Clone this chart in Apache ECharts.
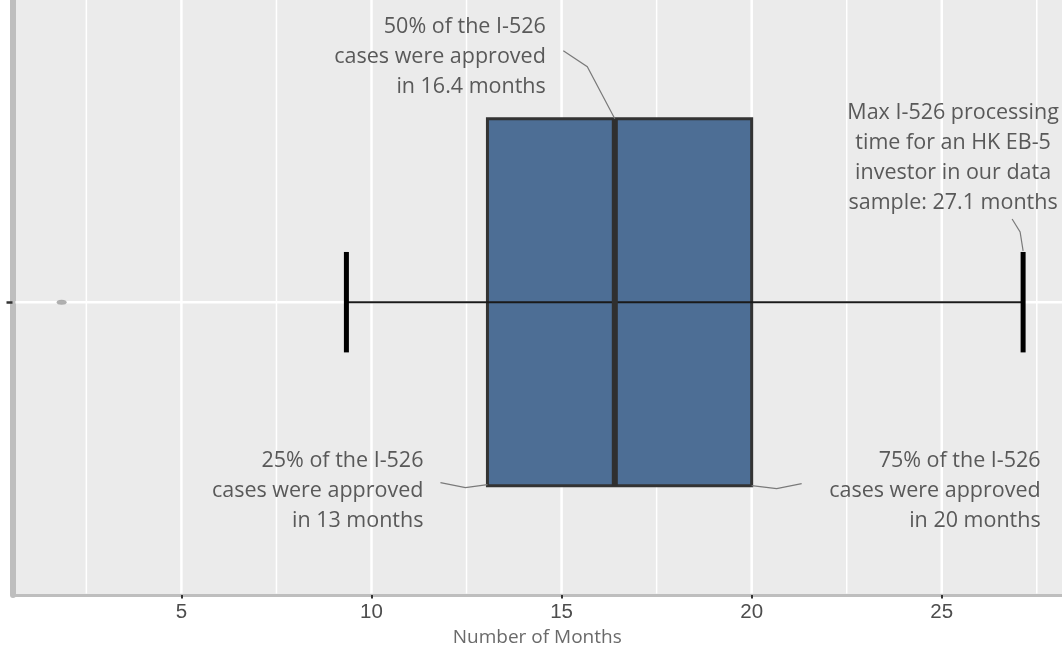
<!DOCTYPE html>
<html><head><meta charset="utf-8">
<script src="https://cdn.jsdelivr.net/npm/echarts@6/dist/echarts.min.js"></script>
<style>html,body{margin:0;padding:0;background:#fff}#c{width:1062px;height:652px}</style>
</head><body><div id="c"></div>
<script>
// ---- data ----
const categories = ['HK EB-5 investors'];
const q1Values = [13.05];
const medianValues = [16.4];
const q3Values = [20.0];
const whiskerLowValues = [9.34];
const whiskerHighValues = [27.14];
const outlierValues = [1.85];
const xTickValues = [5, 10, 15, 20, 25];
const xMinorGridValues = [2.5, 7.5, 12.5, 17.5, 22.5, 27.5];
const xAxisTitle = 'Number of Months';
const medianNote = ['50% of the I-526', 'cases were approved', 'in 16.4 months'];
const q1Note = ['25% of the I-526', 'cases were approved', 'in 13 months'];
const q3Note = ['75% of the I-526', 'cases were approved', 'in 20 months'];
const maxNote = ['Max I-526 processing', 'time for an HK EB-5', 'investor in our data', 'sample: 27.1 months'];

// ---- style constants ----
const BOX_HALF = 0.6265;   // in y-axis units (category centred at 1)
const CAP_HALF = 0.1715;
const NOTE_FONT = '"Open Sans", "Noto Sans", sans-serif';
const NOTE_SIZE = 21.5;
const NOTE_COLOR = '#595959';

const chart = echarts.init(document.getElementById('c'), null, {renderer: 'canvas'});

const boxData = categories.map((c, i) => [i + 1, q1Values[i], medianValues[i], q3Values[i], whiskerLowValues[i], whiskerHighValues[i]]);
const gridData = xMinorGridValues.map(v => [v, 1, 1.5]).concat(xTickValues.map(v => [v, 1, 2.5]));

chart.setOption({
  animation: false,
  grid: {left: 12.5, right: 0, top: 0, bottom: 51.5, show: true, backgroundColor: '#EBEBEB', borderWidth: 0},
  xAxis: {
    type: 'value', min: 0.557, max: 28.163,
    axisLine: {show: true, onZero: false, lineStyle: {color: '#BEBEBE', width: 3}},
    axisTick: {show: true, customValues: xTickValues, length: 3.5, lineStyle: {color: '#333', width: 2}},
    axisLabel: {customValues: xTickValues, color: '#4D4D4D', fontFamily: '"Liberation Sans", Arial, sans-serif', fontSize: 20.5, margin: 7},
    splitLine: {show: false},
    name: xAxisTitle, nameLocation: 'middle', nameGap: 33,
    nameTextStyle: {color: '#6A6A6A', fontFamily: NOTE_FONT, fontSize: 19}
  },
  yAxis: {
    type: 'value', min: 0, max: 2.032,
    axisLine: {show: true, onZero: false, lineStyle: {color: '#BEBEBE', width: 6}},
    axisTick: {show: true, customValues: [1], length: 6, lineStyle: {color: '#333', width: 2.5}},
    axisLabel: {show: false, customValues: [1]},
    splitLine: {show: false}
  },
  series: [
    {
      type: 'custom', z: 1, silent: true,
      data: gridData,
      renderItem: function (params, api) {
        const cs = params.coordSys;
        const x = api.coord([api.value(0), api.value(1)])[0];
        return {type: 'line', shape: {x1: x, y1: cs.y, x2: x, y2: cs.y + cs.height - 1.5},
          style: {stroke: '#FFFFFF', lineWidth: api.value(2)}};
      }
    },
    {
      type: 'custom', z: 1, silent: true,
      data: categories.map((c, i) => [i + 1]),
      renderItem: function (params, api) {
        const cs = params.coordSys;
        const y = api.coord([1, api.value(0)])[1];
        return {type: 'line', shape: {x1: cs.x + 3, y1: y, x2: cs.x + cs.width, y2: y},
          style: {stroke: '#FFFFFF', lineWidth: 2.5}};
      }
    },
    {
      type: 'custom', z: 3, silent: true,
      data: boxData,
      renderItem: function (params, api) {
        const yc = api.value(0);
        const pQ1 = api.coord([api.value(1), yc + BOX_HALF]);
        const pQ3b = api.coord([api.value(3), yc - BOX_HALF]);
        const pMedT = api.coord([api.value(2), yc + BOX_HALF]);
        const pMedB = api.coord([api.value(2), yc - BOX_HALF]);
        const pLo = api.coord([api.value(4), yc]);
        const pHi = api.coord([api.value(5), yc]);
        const capT = api.coord([api.value(4), yc + CAP_HALF])[1];
        const capB = api.coord([api.value(4), yc - CAP_HALF])[1];
        return {type: 'group', children: [
          {type: 'rect', shape: {x: pQ1[0], y: pQ1[1], width: pQ3b[0] - pQ1[0], height: pQ3b[1] - pQ1[1]},
            style: {fill: '#4D6E95', stroke: '#333333', lineWidth: 3}},
          {type: 'line', shape: {x1: pLo[0], y1: pLo[1], x2: pHi[0], y2: pHi[1]},
            style: {stroke: '#1A1A1A', lineWidth: 2}},
          {type: 'line', shape: {x1: pMedT[0], y1: pMedT[1], x2: pMedB[0], y2: pMedB[1]},
            style: {stroke: '#2F2F2F', lineWidth: 6}},
          {type: 'line', shape: {x1: pLo[0], y1: capT, x2: pLo[0], y2: capB},
            style: {stroke: '#000000', lineWidth: 5}},
          {type: 'line', shape: {x1: pHi[0], y1: capT, x2: pHi[0], y2: capB},
            style: {stroke: '#000000', lineWidth: 5}}
        ]};
      }
    },
    {
      type: 'scatter', z: 3, silent: true,
      symbol: 'circle', symbolSize: [10, 5],
      itemStyle: {color: '#9C9C9C'},
      data: outlierValues.map(v => [v, 1])
    }
  ]
});

// ---- annotations anchored to data positions ----
function px(x, y) { return chart.convertToPixel({gridIndex: 0}, [x, y]); }
const aMed = px(medianValues[0], 1 + BOX_HALF);
const aQ1 = px(q1Values[0], 1 - BOX_HALF);
const aQ3 = px(q3Values[0], 1 - BOX_HALF);
const aMax = px(whiskerHighValues[0], 1 + CAP_HALF);

function note(lines, x, y, align) {
  return {type: 'text', z: 10, x: x, y: y, silent: true,
    style: {text: lines.join('\n'), fontFamily: NOTE_FONT, fontSize: NOTE_SIZE, fill: NOTE_COLOR,
      align: align, verticalAlign: 'middle', lineHeight: 30}};
}
function leader(anchor, offs) {
  return {type: 'polyline', z: 10, silent: true,
    shape: {points: offs.map(o => [anchor[0] + o[0], anchor[1] + o[1]])},
    style: {stroke: '#7A7A7A', lineWidth: 1.2, fill: null}};
}

chart.setOption({graphic: [
  note(medianNote, aMed[0] - 69, aMed[1] - 62, 'right'),
  leader(aMed, [[-51.5, -68], [-27.5, -52], [0, 0]]),
  note(q1Note, aQ1[0] - 64, aQ1[1] + 5, 'right'),
  leader(aQ1, [[-47, -3], [-22, 2], [0, -1]]),
  note(q3Note, aQ3[0] + 289, aQ3[1] + 5, 'right'),
  leader(aQ3, [[0, 0], [25, 3], [50, -2]]),
  note(maxNote, aMax[0] - 70, aMax[1] - 94, 'center'),
  leader(aMax, [[-11, -33], [-3, -20], [0, -1]])
]});
</script></body></html>
